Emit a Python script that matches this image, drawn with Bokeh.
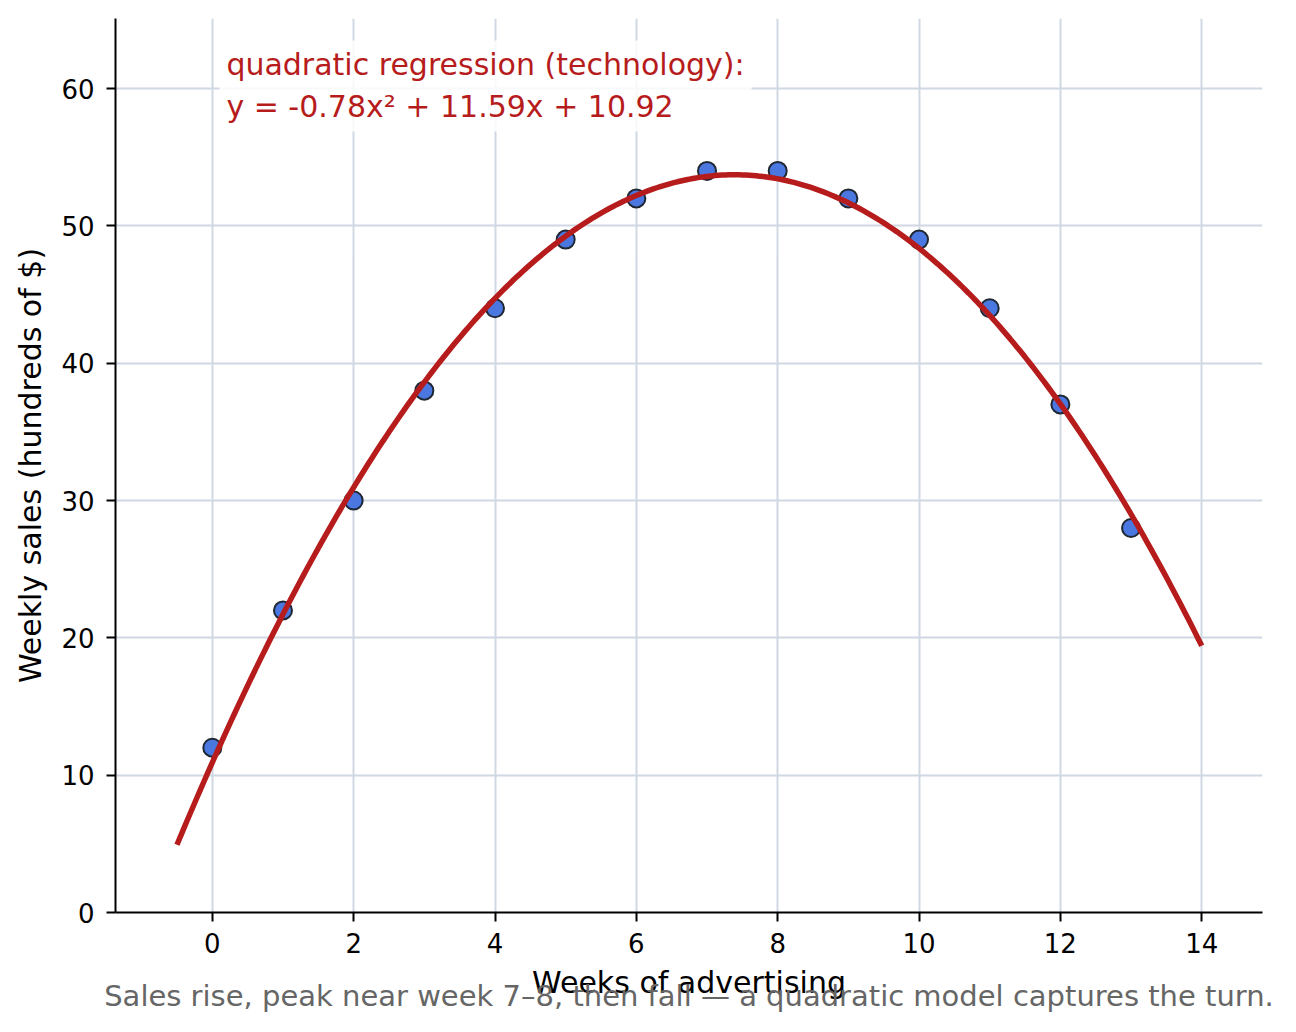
import numpy as np
from bokeh.plotting import figure
from bokeh.models import Range1d, SingleIntervalTicker, Label, Title, ColumnDataSource
from bokeh.embed import file_html
from bokeh.resources import INLINE

# weeks of advertising vs weekly sales (hundreds of $)
weeks = [0, 1, 2, 3, 4, 5, 6, 7, 8, 9, 10, 11, 12, 13]
sales = [12, 22, 30, 38, 44, 49, 52, 54, 54, 52, 49, 44, 37, 28]
curve_start, curve_end = -0.5, 14

title_text = "Sales rise, peak near week 7\u20138, then fall \u2014 a quadratic model captures the turn."
x_label = "Weeks of advertising"
y_label = "Weekly sales (hundreds of $)"

# quadratic regression on the data
a, b, c = np.polyfit(weeks, sales, 2)
xs = np.linspace(curve_start, curve_end, 300)
ys = np.polyval([a, b, c], xs)
eq_text = "quadratic regression (technology):\ny = %.2fx\u00b2 + %.2fx + %.2f" % (a, b, c)

FONT = "DejaVu Sans"
RED = "#b71c1c"

x0, x1, y0, y1 = -1.37, 14.86, 0, 65.1
p = figure(width=1280, height=1024, output_backend="svg", toolbar_location=None,
           x_range=Range1d(x0, x1), y_range=Range1d(y0, y1),
           min_border_left=115, min_border_right=18, min_border_top=18, min_border_bottom=112)
p.outline_line_color = None
p.background_fill_color = "white"

p.xaxis.ticker = SingleIntervalTicker(interval=2, num_minor_ticks=0)
p.yaxis.ticker = SingleIntervalTicker(interval=10, num_minor_ticks=0)
for ax in (p.xaxis, p.yaxis):
    ax.axis_line_color = "black"
    ax.axis_line_width = 2
    ax.major_tick_line_color = "black"
    ax.major_tick_line_width = 2
    ax.major_tick_out = 9
    ax.major_tick_in = 0
    ax.minor_tick_line_color = None
    ax.major_label_text_font = FONT
    ax.major_label_text_font_size = "26px"
    ax.major_label_text_color = "black"
    ax.axis_label_text_font = FONT
    ax.axis_label_text_font_size = "30px"
    ax.axis_label_text_font_style = "normal"
    ax.axis_label_text_color = "black"
p.xaxis.axis_label = x_label
p.yaxis.axis_label = y_label
p.xaxis.major_label_standoff = 11
p.yaxis.major_label_standoff = 12
p.xaxis.axis_label_standoff = 9
p.yaxis.axis_label_standoff = 10

p.grid.grid_line_color = "#cfd8e3"
p.grid.grid_line_width = 2

src = ColumnDataSource(data=dict(x=weeks, y=sales))
p.scatter("x", "y", source=src, size=18, fill_color="#4a78e0", line_color="#1f2733",
          line_width=2)
p.line(xs, ys, line_color=RED, line_width=5.5)

eq = Label(x=0.1, y=63.5, text=eq_text, text_align="left", text_baseline="top",
           text_font=FONT, text_font_size="30px", text_color=RED,
           background_fill_color="white", background_fill_alpha=0.85, padding=7)
p.add_layout(eq)

# caption below the axis title, pulled up so it overlaps like the original
cap = Title(text=title_text, align="center", vertical_align="top", standoff=-48,
            text_font=FONT, text_font_size="29px", text_font_style="normal",
            text_color="#666666")
p.add_layout(cap, "below")

open("out.html", "w").write(file_html(p, INLINE))
